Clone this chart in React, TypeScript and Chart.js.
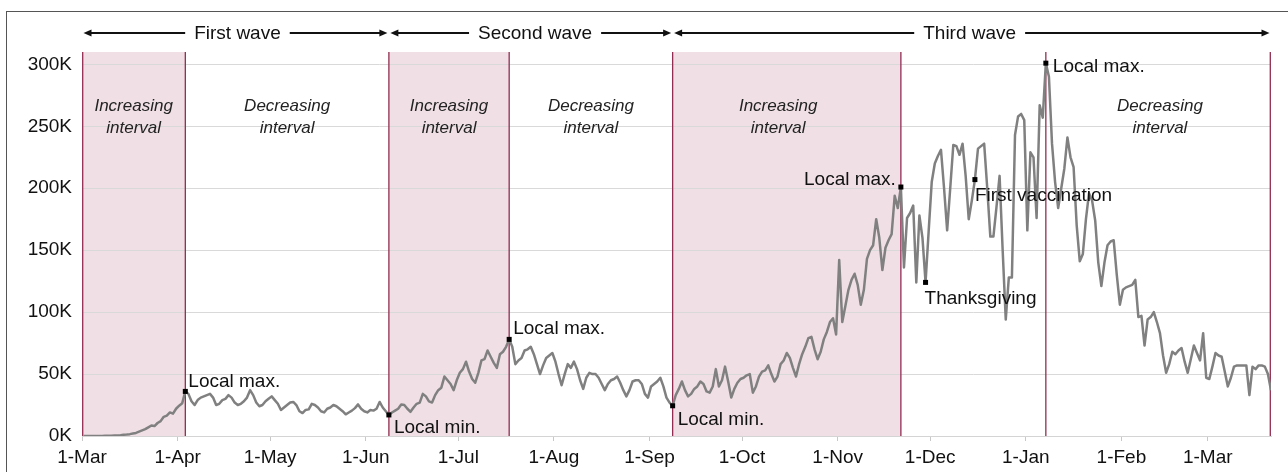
import React, { useEffect, useRef } from 'react';
import { Chart, registerables } from 'chart.js';

Chart.register(...registerables);

const FONT = '"Liberation Sans", Arial, Helvetica, sans-serif';

// x axis: day index from 1-Mar-2020 (points sit at the middle of their day)
const monthTickDays = [0, 31, 61, 92, 122, 153, 184, 214, 245, 275, 306, 337, 365];
const monthTickLabels = ['1-Mar', '1-Apr', '1-May', '1-Jun', '1-Jul', '1-Aug', '1-Sep', '1-Oct', '1-Nov', '1-Dec', '1-Jan', '1-Feb', '1-Mar'];
const yTickValues = [0, 50, 100, 150, 200, 250, 300];

// daily new cases (thousands)
const firstWaveCases = [
  0.01, 0.02, 0.03, 0.05, 0.07, 0.1, 0.1, 0.13, 0.2, 0.3,
  0.4, 0.5, 0.6, 1.0, 1.2, 1.5, 2.0, 2.5, 3.5, 4.5,
  5.5, 7.0, 8.5, 8.0, 10.5, 12.0, 15.5, 16.5, 19.0, 18.0,
  22.0, 24.5, 26.5,
  36,
  34, 28, 25, 29, 31, 32,
  33, 34, 31, 25, 26, 29, 30, 33, 31, 27,
  25, 26, 28, 31, 37, 33, 27, 24, 25, 28,
  30, 32, 29, 26, 21, 23, 25, 27, 27.5, 25,
  20, 18.5, 21, 21.5, 26, 25, 23, 20, 19, 22,
  23, 25, 24, 22, 20, 17.5, 19, 20.5, 22.5, 25.5,
  22, 20, 19, 21, 20.5, 22, 27.5, 23, 20,
];
const secondWaveCases = [
  17,
  19, 20.5, 22, 25.5, 25, 22, 19.5, 23, 26, 27,
  34, 32, 28, 27, 33, 37, 39, 48, 45, 42,
  37, 45, 51, 54, 60, 52, 46, 43, 51, 61,
  62, 69, 64, 59, 55, 66, 68, 72, 78,
  72, 58, 61, 63, 69, 70, 72, 66, 58, 50, 57,
  63, 65, 67, 60, 50, 41, 50, 58, 55, 60,
  54, 45, 38, 47, 51, 50, 50, 47, 42, 37,
  42, 45, 46, 48, 43, 37, 32, 37, 44, 45,
  45, 42, 34, 31, 40, 42, 44, 47, 40, 31, 27,
];
const thirdWaveCases = [
  24.4,
  33, 38, 44, 37, 32, 34, 38, 40,
  44, 42, 36, 35, 40, 54, 40, 45, 56, 44,
  31, 38, 43, 46, 47, 49, 50, 35, 40, 48,
  52, 53, 57, 50, 44, 48, 58, 61, 67, 63,
  55, 48, 58, 66, 72, 79, 80, 70, 62, 68,
  78, 84, 92, 95, 82, 142, 92, 105, 118, 126,
  131, 122, 106, 118, 143, 150, 154, 175, 160, 134,
  152, 158, 163, 194, 184, 201,
  136, 176, 180, 186,
  124, 178, 160, 124, 165, 205, 220, 226, 231, 200,
  166, 200, 235, 234, 227, 236, 210, 175, 190, 207,
  232, 234, 236, 200, 161, 161, 185, 210, 150, 94,
  128, 128, 243, 258, 260, 255, 166, 229, 225, 176,
  267, 257, 301,
  290, 236, 205, 184, 200, 216, 241,
  225, 217, 170, 141, 147, 175, 196, 190, 174, 140,
  121, 140, 154, 157, 158, 130, 106, 118, 120, 121,
  122, 126, 96, 97, 73, 94, 96, 100, 92, 83,
  65, 51, 58, 68, 66, 69, 71, 60, 51, 62,
  73, 67, 61, 83, 47, 46, 56, 67, 65, 64,
  52, 40, 47, 56, 57, 57, 57, 57, 33, 56,
  54, 57, 57, 56, 50, 37,
];
const dailyCases = [...firstWaveCases, ...secondWaveCases, ...thirdWaveCases];

// interval edges on the day axis
const intervalEdges = [0, 33.5, 99.5, 138.5, 191.5, 265.5, 312.5, 385.5];
const shadedIntervals = [[0, 33.5], [99.5, 138.5], [191.5, 265.5]];
const intervalLabels = [
  { lines: ['Increasing', 'interval'], at: 16.75 },
  { lines: ['Decreasing', 'interval'], at: 66.5 },
  { lines: ['Increasing', 'interval'], at: 119 },
  { lines: ['Decreasing', 'interval'], at: 165 },
  { lines: ['Increasing', 'interval'], at: 225.7 },
  { lines: ['Decreasing', 'interval'], at: 349.5 },
];
const waves = [
  { name: 'First wave', from: 0, to: 99.5, textAt: 50.4 },
  { name: 'Second wave', from: 99.5, to: 191.5, textAt: 146.9 },
  { name: 'Third wave', from: 191.5, to: 385.5, textAt: 287.8 },
];
const annotations = [
  { index: 33, text: 'Local max.', align: 'left', dx: 3, dy: -4 },
  { index: 99, text: 'Local min.', align: 'left', dx: 5, dy: 18 },
  { index: 138, text: 'Local max.', align: 'left', dx: 4, dy: -5 },
  { index: 191, text: 'Local min.', align: 'left', dx: 5, dy: 19 },
  { index: 265, text: 'Local max.', align: 'right', dx: -5, dy: -2 },
  { index: 273, text: 'Thanksgiving', align: 'left', dx: -1, dy: 22 },
  { index: 289, text: 'First vaccination', align: 'left', dx: 0, dy: 21 },
  { index: 312, text: 'Local max.', align: 'left', dx: 7, dy: 9 },
];

const PINK = 'rgb(240,224,230)';
const MAROON = 'rgb(145,45,80)';

const overlayPlugin = {
  id: 'overlay',
  beforeDraw(chart: any) {
    const { ctx, chartArea, scales } = chart;
    const x = scales.x;
    ctx.save();
    ctx.fillStyle = PINK;
    for (const [a, b] of shadedIntervals) {
      const xa = x.getPixelForValue(a);
      const xb = x.getPixelForValue(b);
      ctx.fillRect(xa, chartArea.top, xb - xa, chartArea.bottom - chartArea.top);
    }
    ctx.restore();
  },
  beforeDatasetsDraw(chart: any) {
    const { ctx, chartArea, scales } = chart;
    const x = scales.x;
    ctx.save();
    ctx.strokeStyle = MAROON;
    ctx.lineWidth = 1.3;
    for (const e of intervalEdges) {
      const px = Math.min(Math.max(x.getPixelForValue(e), chartArea.left + 0.7), chartArea.right - 0.7);
      ctx.beginPath();
      ctx.moveTo(px, chartArea.top);
      ctx.lineTo(px, chartArea.bottom);
      ctx.stroke();
    }
    ctx.restore();
  },
  afterDatasetsDraw(chart: any) {
    const { ctx, chartArea, scales } = chart;
    const x = scales.x;
    const y = scales.y;
    ctx.save();

    // interval labels
    ctx.fillStyle = '#222';
    ctx.font = `italic 17px ${FONT}`;
    ctx.textAlign = 'center';
    ctx.textBaseline = 'middle';
    for (const lab of intervalLabels) {
      const cx = x.getPixelForValue(lab.at);
      lab.lines.forEach((t, i) => ctx.fillText(t, cx, chartArea.top + 54 + i * 22));
    }

    // markers + annotation text
    ctx.font = `19px ${FONT}`;
    ctx.textBaseline = 'alphabetic';
    for (const a of annotations) {
      const mx = x.getPixelForValue(a.index + 0.5);
      const my = y.getPixelForValue(dailyCases[a.index]);
      ctx.fillStyle = '#000';
      ctx.fillRect(mx - 2.5, my - 2.5, 5, 5);
      ctx.fillStyle = '#111';
      ctx.textAlign = a.align as CanvasTextAlign;
      ctx.fillText(a.text, mx + a.dx, my + a.dy);
    }

    // wave arrows
    const wy = chartArea.top - 19;
    ctx.strokeStyle = '#111';
    ctx.fillStyle = '#111';
    ctx.lineWidth = 2;
    ctx.textAlign = 'center';
    ctx.textBaseline = 'middle';
    for (const w of waves) {
      const x0 = x.getPixelForValue(w.from) + 1.5;
      const x1 = x.getPixelForValue(w.to) - 1.5;
      const tx = x.getPixelForValue(w.textAt);
      const tw = ctx.measureText(w.name).width;
      ctx.fillText(w.name, tx, wy + 1);
      ctx.beginPath();
      ctx.moveTo(x0 + 6, wy);
      ctx.lineTo(tx - tw / 2 - 9, wy);
      ctx.moveTo(tx + tw / 2 + 9, wy);
      ctx.lineTo(x1 - 6, wy);
      ctx.stroke();
      ctx.beginPath();
      ctx.moveTo(x0, wy);
      ctx.lineTo(x0 + 8, wy - 3.5);
      ctx.lineTo(x0 + 8, wy + 3.5);
      ctx.closePath();
      ctx.fill();
      ctx.beginPath();
      ctx.moveTo(x1, wy);
      ctx.lineTo(x1 - 8, wy - 3.5);
      ctx.lineTo(x1 - 8, wy + 3.5);
      ctx.closePath();
      ctx.fill();
    }
    ctx.restore();
  },
};

export default function App() {
  const ref = useRef<HTMLCanvasElement>(null);
  useEffect(() => {
    const canvas = ref.current;
    if (!canvas) return;
    Chart.defaults.font.family = FONT;
    const chart = new Chart(canvas, {
      type: 'line',
      data: {
        datasets: [
          {
            data: dailyCases.map((v, i) => ({ x: i + 0.5, y: v })),
            borderColor: '#808080',
            borderWidth: 2.5,
            borderJoinStyle: 'round',
            pointRadius: 0,
            tension: 0,
            fill: false,
          },
        ],
      },
      options: {
        animation: false,
        responsive: false,
        devicePixelRatio: 1,
        layout: { padding: { top: 52, right: 17, bottom: 0, left: 0 } },
        plugins: { legend: { display: false }, tooltip: { enabled: false } },
        scales: {
          x: {
            type: 'linear',
            min: 0,
            max: 385.5,
            afterBuildTicks: (s: any) => {
              s.ticks = monthTickDays.map((v) => ({ value: v }));
            },
            afterFit: (s: any) => {
              s.height = 36;
            },
            ticks: {
              autoSkip: false,
              maxRotation: 0,
              minRotation: 0,
              padding: 5,
              color: '#111',
              font: { size: 19, family: FONT },
              callback: (v: any) => monthTickLabels[monthTickDays.indexOf(Number(v))] ?? '',
            },
            grid: { drawOnChartArea: false, drawTicks: true, tickLength: 5, color: '#c8c8c8' },
            border: { display: true, color: '#d4d4d4' },
          },
          y: {
            min: 0,
            max: 310,
            afterBuildTicks: (s: any) => {
              s.ticks = yTickValues.map((v) => ({ value: v }));
            },
            afterFit: (s: any) => {
              s.width = 82;
            },
            ticks: {
              padding: 10,
              color: '#111',
              font: { size: 19, family: FONT },
              callback: (v: any) => `${v}K`,
            },
            grid: { color: '#d9d9d9', drawTicks: false, lineWidth: 1 },
            border: { display: false },
          },
        },
      },
      plugins: [overlayPlugin],
    });
    return () => chart.destroy();
  }, []);

  return (
    <div style={{ position: 'fixed', left: 0, top: 0, width: 1288, height: 472, background: '#fff', overflow: 'hidden' }}>
      <canvas ref={ref} width={1288} height={472} style={{ position: 'absolute', left: 0, top: 0, width: 1288, height: 472 }} />
      <div
        style={{
          position: 'absolute',
          left: 6,
          top: 11,
          width: 1400,
          height: 600,
          borderLeft: '1px solid #555',
          borderTop: '1px solid #555',
          pointerEvents: 'none',
        }}
      />
    </div>
  );
}
